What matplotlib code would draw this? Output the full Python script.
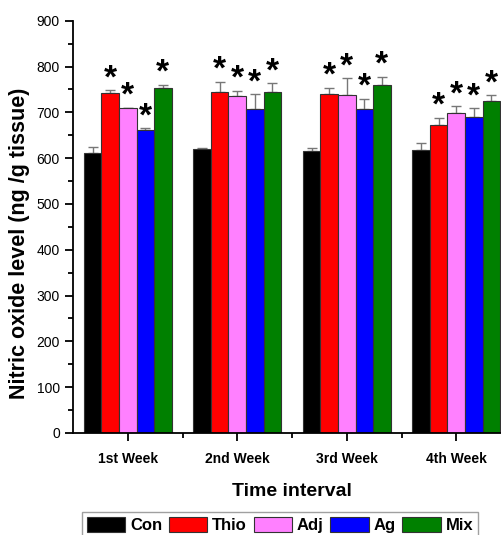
import numpy as np
import matplotlib.pyplot as plt
from matplotlib.ticker import MultipleLocator, FixedLocator

plt.rcParams["font.family"] = ["Liberation Sans", "DejaVu Sans"]

# ============================================================
# Data
# ============================================================

weeks = ["1st Week", "2nd Week", "3rd Week", "4th Week"]
groups = ["Con", "Thio", "Adj", "Ag", "Mix"]

con = [612, 619, 615, 618]
thio = [742, 744, 741, 673]
adj = [709, 735, 737, 699]
ag = [662, 707, 708, 690]
mix = [753, 745, 760, 725]

con_err = [13, 4, 8, 14]
thio_err = [7, 23, 13, 15]
adj_err = [1, 12, 38, 15]
ag_err = [4, 33, 22, 19]
mix_err = [7, 19, 18, 13]

# significance marks (True = star above bar)
con_sig = [False, False, False, False]
thio_sig = [True, True, True, True]
adj_sig = [True, True, True, True]
ag_sig = [True, True, True, True]
mix_sig = [True, True, True, True]

colors = ["#000000", "#ff0000", "#ff80ff", "#0000ff", "#008000"]

values = [con, thio, adj, ag, mix]
errors = [con_err, thio_err, adj_err, ag_err, mix_err]
sigs = [con_sig, thio_sig, adj_sig, ag_sig, mix_sig]

# ============================================================
# Plot
# ============================================================

fig = plt.figure(figsize=(5.01, 5.35), dpi=100)
ax = fig.add_axes([73 / 501, 1 - 433 / 535, 438 / 501, (433 - 20.7) / 535])

x = np.arange(len(weeks))
width = 0.16

bars = []
for i, (name, vals, errs, sig, col) in enumerate(zip(groups, values, errors, sigs, colors)):
    pos = x + (i - 2) * width
    b = ax.bar(pos, vals, width, color=col, edgecolor="#333333", linewidth=0.8,
               label=name, zorder=2)
    ax.errorbar(pos, vals, yerr=[np.zeros(len(vals)), errs], fmt="none",
                ecolor="#777777", elinewidth=1, capsize=3.5, capthick=1, zorder=1)
    bars.append(b)
    for p, v, e, s in zip(pos, vals, errs, sig):
        if s:
            ax.annotate("*", (p, v + e), xytext=(0, 2), textcoords="offset points",
                        ha="center", va="baseline", fontsize=24, fontweight="bold")

ax.set_xlim(-0.5, 3.5)
ax.set_ylim(0, 900)

ax.set_xticks(x)
ax.set_xticklabels(weeks, fontsize=9.5, fontweight="bold")
ax.xaxis.set_minor_locator(FixedLocator([0.5, 1.5, 2.5]))
ax.yaxis.set_major_locator(MultipleLocator(100))
ax.yaxis.set_minor_locator(MultipleLocator(50))

ax.tick_params(axis="both", which="major", direction="out", length=6, width=1.3,
               labelsize=10)
ax.tick_params(axis="both", which="minor", direction="out", length=3.5, width=1.3)
ax.tick_params(axis="x", which="major", pad=8)

for side in ["top", "right"]:
    ax.spines[side].set_visible(False)
for side in ["left", "bottom"]:
    ax.spines[side].set_linewidth(1.3)

ax.set_ylabel("Nitric oxide level (ng /g tissue)", fontsize=15.5, fontweight="bold")
ax.yaxis.set_label_coords(-0.099, 0.461)
ax.set_xlabel("Time interval", fontsize=14, fontweight="bold", labelpad=12)

leg = fig.legend(handles=bars, labels=groups, loc="upper center",
                 bbox_to_anchor=(280 / 501, 1 - 512 / 535), ncol=5, frameon=True,
                 fancybox=False, edgecolor="#888888", handlelength=2.3,
                 handleheight=1.0, handletextpad=0.3, columnspacing=0.4,
                 borderpad=0.3, borderaxespad=0, prop={"weight": "bold", "size": 12})

fig.savefig("out.png", dpi=100)
